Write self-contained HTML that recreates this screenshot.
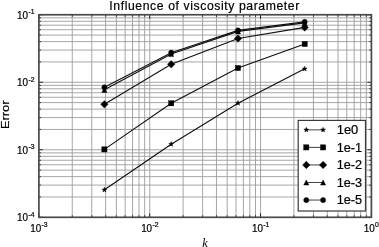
<!DOCTYPE html>
<html><head><meta charset="utf-8"><style>
html,body{margin:0;padding:0;background:#fff;overflow:hidden}
svg{display:block}
text{fill:#000;stroke:#000;stroke-width:0.2px}
svg{filter:grayscale(1)}
</style></head><body>
<svg width="379" height="247" viewBox="0 0 379 247">
<rect width="379" height="247" fill="#fff"/>
<path d="M72.26 14.75V217.30M91.78 14.75V217.30M105.63 14.75V217.30M116.37 14.75V217.30M125.15 14.75V217.30M132.57 14.75V217.30M138.99 14.75V217.30M144.66 14.75V217.30M149.73 14.75V217.30M183.10 14.75V217.30M202.61 14.75V217.30M216.46 14.75V217.30M227.20 14.75V217.30M235.98 14.75V217.30M243.40 14.75V217.30M249.83 14.75V217.30M255.50 14.75V217.30M260.57 14.75V217.30M293.93 14.75V217.30M313.45 14.75V217.30M327.29 14.75V217.30M338.04 14.75V217.30M346.81 14.75V217.30M354.23 14.75V217.30M360.66 14.75V217.30M366.33 14.75V217.30M38.90 196.98H371.40M38.90 185.09H371.40M38.90 176.65H371.40M38.90 170.11H371.40M38.90 164.76H371.40M38.90 160.24H371.40M38.90 156.33H371.40M38.90 152.87H371.40M38.90 149.78H371.40M38.90 129.46H371.40M38.90 117.57H371.40M38.90 109.13H371.40M38.90 102.59H371.40M38.90 97.25H371.40M38.90 92.73H371.40M38.90 88.81H371.40M38.90 85.36H371.40M38.90 82.27H371.40M38.90 61.94H371.40M38.90 50.05H371.40M38.90 41.62H371.40M38.90 35.07H371.40M38.90 29.73H371.40M38.90 25.21H371.40M38.90 21.29H371.40M38.90 17.84H371.40" stroke="#9c9c9c" stroke-width="0.9" fill="none"/>
<path d="M38.90 217.30v-4M38.90 14.75v4M72.26 217.30v-2M72.26 14.75v2M91.78 217.30v-2M91.78 14.75v2M105.63 217.30v-2M105.63 14.75v2M116.37 217.30v-2M116.37 14.75v2M125.15 217.30v-2M125.15 14.75v2M132.57 217.30v-2M132.57 14.75v2M138.99 217.30v-2M138.99 14.75v2M144.66 217.30v-2M144.66 14.75v2M149.73 217.30v-4M149.73 14.75v4M183.10 217.30v-2M183.10 14.75v2M202.61 217.30v-2M202.61 14.75v2M216.46 217.30v-2M216.46 14.75v2M227.20 217.30v-2M227.20 14.75v2M235.98 217.30v-2M235.98 14.75v2M243.40 217.30v-2M243.40 14.75v2M249.83 217.30v-2M249.83 14.75v2M255.50 217.30v-2M255.50 14.75v2M260.57 217.30v-4M260.57 14.75v4M293.93 217.30v-2M293.93 14.75v2M313.45 217.30v-2M313.45 14.75v2M327.29 217.30v-2M327.29 14.75v2M338.04 217.30v-2M338.04 14.75v2M346.81 217.30v-2M346.81 14.75v2M354.23 217.30v-2M354.23 14.75v2M360.66 217.30v-2M360.66 14.75v2M366.33 217.30v-2M366.33 14.75v2M371.40 217.30v-4M371.40 14.75v4M38.90 217.30h4M371.40 217.30h-4M38.90 196.98h2M371.40 196.98h-2M38.90 185.09h2M371.40 185.09h-2M38.90 176.65h2M371.40 176.65h-2M38.90 170.11h2M371.40 170.11h-2M38.90 164.76h2M371.40 164.76h-2M38.90 160.24h2M371.40 160.24h-2M38.90 156.33h2M371.40 156.33h-2M38.90 152.87h2M371.40 152.87h-2M38.90 149.78h4M371.40 149.78h-4M38.90 129.46h2M371.40 129.46h-2M38.90 117.57h2M371.40 117.57h-2M38.90 109.13h2M371.40 109.13h-2M38.90 102.59h2M371.40 102.59h-2M38.90 97.25h2M371.40 97.25h-2M38.90 92.73h2M371.40 92.73h-2M38.90 88.81h2M371.40 88.81h-2M38.90 85.36h2M371.40 85.36h-2M38.90 82.27h4M371.40 82.27h-4M38.90 61.94h2M371.40 61.94h-2M38.90 50.05h2M371.40 50.05h-2M38.90 41.62h2M371.40 41.62h-2M38.90 35.07h2M371.40 35.07h-2M38.90 29.73h2M371.40 29.73h-2M38.90 25.21h2M371.40 25.21h-2M38.90 21.29h2M371.40 21.29h-2M38.90 17.84h2M371.40 17.84h-2M38.90 14.75h4M371.40 14.75h-4" stroke="#000" stroke-width="0.8" fill="none"/>
<path d="M104.40 189.80L171.20 144.20L238.00 103.20L304.70 68.80" stroke="#111" stroke-width="1.15" fill="none"/>
<path d="M104.40 149.40L171.20 103.30L238.00 68.00L304.70 44.00" stroke="#111" stroke-width="1.15" fill="none"/>
<path d="M104.40 104.30L171.20 64.30L238.00 38.50L304.70 27.40" stroke="#111" stroke-width="1.15" fill="none"/>
<path d="M104.40 89.85L171.20 54.00L238.00 31.40L304.70 22.90" stroke="#111" stroke-width="1.15" fill="none"/>
<path d="M104.40 87.25L171.20 52.70L238.00 30.40L304.70 21.85" stroke="#111" stroke-width="1.15" fill="none"/>
<g fill="#000" stroke="#000" stroke-width="0.4"><polygon points="104.40,187.20 105.04,188.92 106.87,189.00 105.44,190.14 105.93,191.90 104.40,190.89 102.87,191.90 103.36,190.14 101.93,189.00 103.76,188.92"/><polygon points="171.20,141.60 171.84,143.32 173.67,143.40 172.24,144.54 172.73,146.30 171.20,145.29 169.67,146.30 170.16,144.54 168.73,143.40 170.56,143.32"/><polygon points="238.00,100.60 238.64,102.32 240.47,102.40 239.04,103.54 239.53,105.30 238.00,104.29 236.47,105.30 236.96,103.54 235.53,102.40 237.36,102.32"/><polygon points="304.70,66.20 305.34,67.92 307.17,68.00 305.74,69.14 306.23,70.90 304.70,69.89 303.17,70.90 303.66,69.14 302.23,68.00 304.06,67.92"/></g>
<g fill="#000" stroke="#000" stroke-width="0.4"><rect x="101.80" y="146.80" width="5.20" height="5.20"/><rect x="168.60" y="100.70" width="5.20" height="5.20"/><rect x="235.40" y="65.40" width="5.20" height="5.20"/><rect x="302.10" y="41.40" width="5.20" height="5.20"/></g>
<g fill="#000" stroke="#000" stroke-width="0.4"><path d="M104.40 100.56L108.14 104.30L104.40 108.04L100.66 104.30Z"/><path d="M171.20 60.56L174.94 64.30L171.20 68.04L167.46 64.30Z"/><path d="M238.00 34.76L241.74 38.50L238.00 42.24L234.26 38.50Z"/><path d="M304.70 23.66L308.44 27.40L304.70 31.14L300.96 27.40Z"/></g>
<g fill="#000" stroke="#000" stroke-width="0.4"><path d="M104.40 87.25L107.00 92.45L101.80 92.45Z"/><path d="M171.20 51.40L173.80 56.60L168.60 56.60Z"/><path d="M238.00 28.80L240.60 34.00L235.40 34.00Z"/><path d="M304.70 20.30L307.30 25.50L302.10 25.50Z"/></g>
<g fill="#000" stroke="#000" stroke-width="0.4"><circle cx="104.40" cy="87.25" r="2.60"/><circle cx="171.20" cy="52.70" r="2.60"/><circle cx="238.00" cy="30.40" r="2.60"/><circle cx="304.70" cy="21.85" r="2.60"/></g>
<rect x="38.9" y="14.75" width="332.50" height="202.55" fill="none" stroke="#4a4a4a" stroke-width="1.7"/>
<rect x="298.2" y="120.4" width="67.30" height="90.60" fill="#fff" stroke="#3a3a3a" stroke-width="1.2"/>
<path d="M306.3 129.85H323.1" stroke="#444" stroke-width="1"/>
<g fill="#000" stroke="#000" stroke-width="0.4"><polygon points="306.30,127.25 306.94,128.97 308.77,129.05 307.34,130.19 307.83,131.95 306.30,130.94 304.77,131.95 305.26,130.19 303.83,129.05 305.66,128.97"/><polygon points="323.10,127.25 323.74,128.97 325.57,129.05 324.14,130.19 324.63,131.95 323.10,130.94 321.57,131.95 322.06,130.19 320.63,129.05 322.46,128.97"/></g>
<text x="336.7" y="133.95" font-family="Liberation Sans" font-size="12" textLength="21.6" lengthAdjust="spacingAndGlyphs">1e0</text>
<path d="M306.3 147.40H323.1" stroke="#444" stroke-width="1"/>
<g fill="#000" stroke="#000" stroke-width="0.4"><rect x="303.70" y="144.80" width="5.20" height="5.20"/><rect x="320.50" y="144.80" width="5.20" height="5.20"/></g>
<text x="336.7" y="151.50" font-family="Liberation Sans" font-size="12" textLength="25.4" lengthAdjust="spacingAndGlyphs">1e-1</text>
<path d="M306.3 164.95H323.1" stroke="#444" stroke-width="1"/>
<g fill="#000" stroke="#000" stroke-width="0.4"><path d="M306.30 161.21L310.04 164.95L306.30 168.69L302.56 164.95Z"/><path d="M323.10 161.21L326.84 164.95L323.10 168.69L319.36 164.95Z"/></g>
<text x="336.7" y="169.05" font-family="Liberation Sans" font-size="12" textLength="25.4" lengthAdjust="spacingAndGlyphs">1e-2</text>
<path d="M306.3 182.50H323.1" stroke="#444" stroke-width="1"/>
<g fill="#000" stroke="#000" stroke-width="0.4"><path d="M306.30 179.90L308.90 185.10L303.70 185.10Z"/><path d="M323.10 179.90L325.70 185.10L320.50 185.10Z"/></g>
<text x="336.7" y="186.60" font-family="Liberation Sans" font-size="12" textLength="25.4" lengthAdjust="spacingAndGlyphs">1e-3</text>
<path d="M306.3 200.05H323.1" stroke="#444" stroke-width="1"/>
<g fill="#000" stroke="#000" stroke-width="0.4"><circle cx="306.30" cy="200.05" r="2.60"/><circle cx="323.10" cy="200.05" r="2.60"/></g>
<text x="336.7" y="204.15" font-family="Liberation Sans" font-size="12" textLength="25.4" lengthAdjust="spacingAndGlyphs">1e-5</text>
<text x="109.3" y="10.1" font-family="Liberation Sans" font-size="12.2" style="stroke-width:0.2px" textLength="190" lengthAdjust="spacing">Influence of viscosity parameter</text>
<text transform="translate(9.0,129) rotate(-90)" font-family="Liberation Sans" font-size="11.6" textLength="28.5" lengthAdjust="spacingAndGlyphs">Error</text>
<text x="202.3" y="246.8" font-family="Liberation Serif" font-style="italic" font-size="12.2" style="stroke-width:0">k</text>
<text x="17.1" y="18.65" font-family="Liberation Sans" font-size="10.2" textLength="11" lengthAdjust="spacingAndGlyphs">10</text>
<text x="28.4" y="14.05" font-family="Liberation Sans" font-size="6.8">-1</text>
<text x="17.1" y="86.17" font-family="Liberation Sans" font-size="10.2" textLength="11" lengthAdjust="spacingAndGlyphs">10</text>
<text x="28.4" y="81.57" font-family="Liberation Sans" font-size="6.8">-2</text>
<text x="17.1" y="153.68" font-family="Liberation Sans" font-size="10.2" textLength="11" lengthAdjust="spacingAndGlyphs">10</text>
<text x="28.4" y="149.08" font-family="Liberation Sans" font-size="6.8">-3</text>
<text x="17.1" y="221.20" font-family="Liberation Sans" font-size="10.2" textLength="11" lengthAdjust="spacingAndGlyphs">10</text>
<text x="28.4" y="216.60" font-family="Liberation Sans" font-size="6.8">-4</text>
<text x="30.30" y="232.00" font-family="Liberation Sans" font-size="10.2" textLength="11" lengthAdjust="spacingAndGlyphs">10</text>
<text x="41.60" y="227.40" font-family="Liberation Sans" font-size="6.8">-3</text>
<text x="141.13" y="232.00" font-family="Liberation Sans" font-size="10.2" textLength="11" lengthAdjust="spacingAndGlyphs">10</text>
<text x="152.43" y="227.40" font-family="Liberation Sans" font-size="6.8">-2</text>
<text x="251.97" y="232.00" font-family="Liberation Sans" font-size="10.2" textLength="11" lengthAdjust="spacingAndGlyphs">10</text>
<text x="263.27" y="227.40" font-family="Liberation Sans" font-size="6.8">-1</text>
<text x="363.80" y="232.00" font-family="Liberation Sans" font-size="10.2" textLength="11" lengthAdjust="spacingAndGlyphs">10</text>
<text x="375.10" y="227.40" font-family="Liberation Sans" font-size="6.8">0</text>
</svg>
</body></html>
